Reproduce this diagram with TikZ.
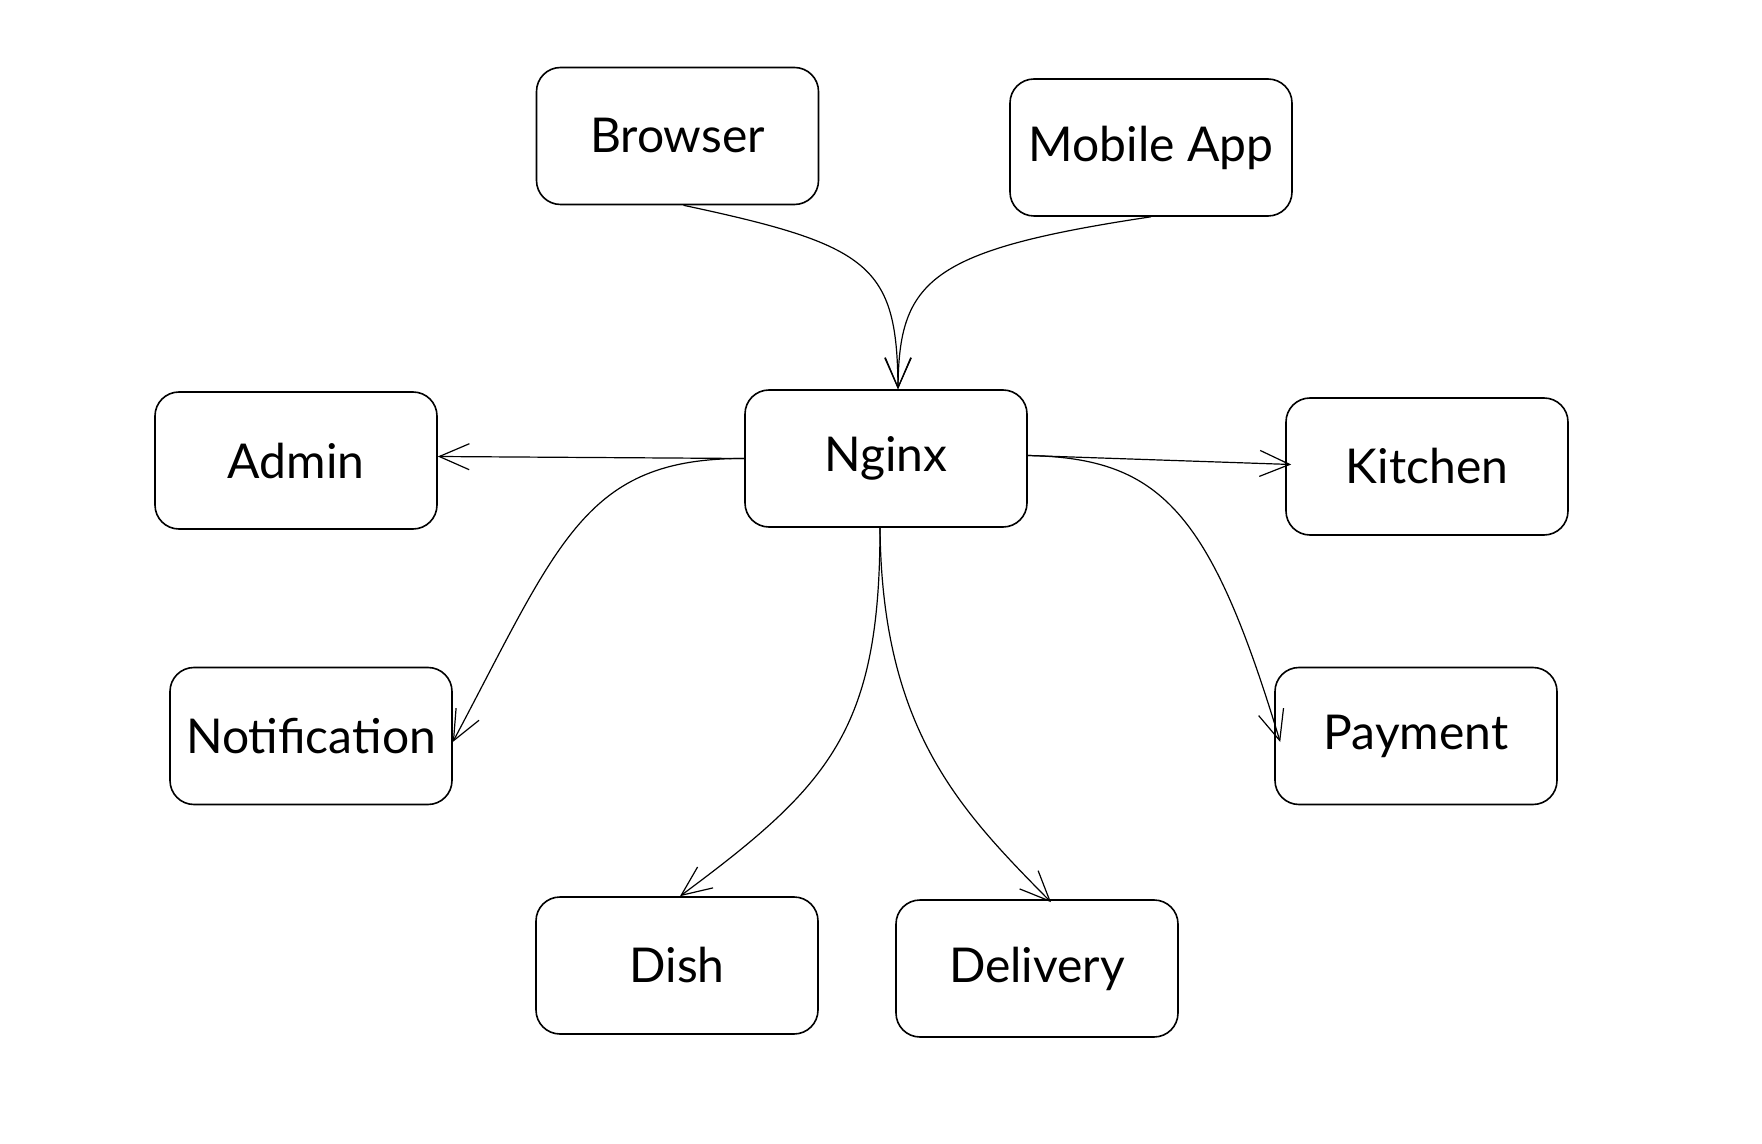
\documentclass[tikz,border=0pt]{standalone}
\usepackage{fontspec}
\setmainfont{Lato}
\usetikzlibrary{arrows.meta}
\begin{document}
\begin{tikzpicture}[x=0.5pt,y=-0.5pt,
  box/.style={draw=black, line width=0.8pt, rounded corners=12pt,
    minimum width=141pt, minimum height=68.5pt, inner sep=0pt,
    font=\fontsize{24}{28}\selectfont},
  conn/.style={draw=black, line width=0.6pt,
    -{Straight Barb[length=15pt,width=13pt,line width=0.6pt]}}]
\useasboundingbox[fill=white] (0,0) rectangle (1762,1144);
\node[box] (browser) at (677.5,136) {Browser};
\node[box] (mobile) at (1151,147.5) {Mobile App};
\node[box] (nginx) at (886,458.5) {Nginx};
\node[box] (admin) at (296,460.5) {Admin};
\node[box] (kitchen) at (1427,466.5) {Kitchen};
\node[box] (notif) at (311,736) {Notification};
\node[box] (payment) at (1416,736) {Payment};
\node[box] (dish) at (677,965.5) {Dish};
\node[box] (delivery) at (1037,968.5) {Delivery};

\coordinate (bs) at ([xshift=3pt]browser.south);
\coordinate (ms) at (mobile.south);
\coordinate (nt) at ([xshift=6pt]nginx.north);
\coordinate (nl) at (nginx.west);
\coordinate (nr) at ([yshift=1.5pt]nginx.east);
\coordinate (nb) at ([xshift=-3pt]nginx.south);

\draw[conn] (bs) .. controls (870,245) and (897,265) .. (nt);
\draw[conn] (ms) .. controls (930,250) and (899,280) .. (nt);
\draw[conn] (nl) -- ([yshift=2pt]admin.east);
\draw[conn] (nl) .. controls (585,458) and (560,540) .. ([yshift=-3pt]notif.east);
\draw[conn] (nr) -- ([xshift=3pt,yshift=1pt]kitchen.west);
\draw[conn] (nr) .. controls (1160,458) and (1210,510) .. ([xshift=3pt,yshift=-3pt]payment.west);
\draw[conn] (nb) .. controls (880,730) and (830,785) .. ([xshift=1.5pt]dish.north);
\draw[conn] (nb) .. controls (882,730) and (960,810) .. ([xshift=7pt,yshift=-1.5pt]delivery.north);
\end{tikzpicture}
\end{document}
